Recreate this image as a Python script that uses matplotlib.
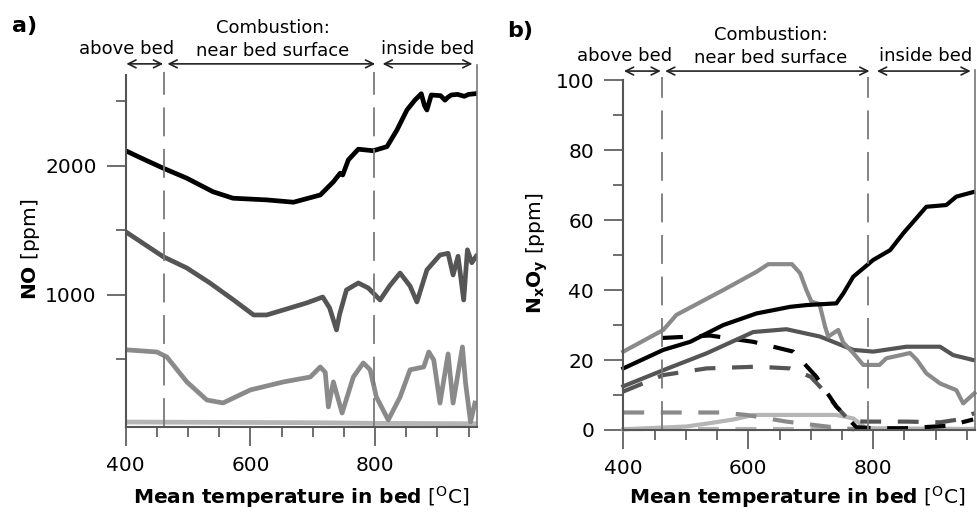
import matplotlib as mpl
import matplotlib.pyplot as plt
from matplotlib.ticker import FixedLocator

mpl.rcParams['font.family'] = ['DejaVu Sans']
mpl.rcParams['mathtext.fontset'] = 'dejavusans'

# ---- panel a: NO [ppm] ----
no_x_black = [403, 428, 460, 498, 540, 572, 626, 669, 712, 733, 740, 744, 748, 757, 773, 797, 819, 835, 851,
              864, 874, 879, 883, 890, 905, 912, 916, 922, 932, 943, 950, 960]
no_y_black = [2111, 2054, 1983, 1905, 1800, 1750, 1737, 1719, 1775, 1877, 1920, 1944, 1930, 2047, 2130, 2118,
              2150, 2279, 2434, 2512, 2560, 2470, 2434, 2550, 2545, 2510, 2530, 2550, 2555, 2540, 2555, 2560]
no_x_dark = [403, 460, 498, 535, 573, 605, 626, 653, 690, 716, 727, 738, 743, 754, 773, 789, 808, 823, 840,
             856, 867, 883, 904, 917, 925, 933, 942, 948, 955, 962]
no_y_dark = [1480, 1297, 1209, 1093, 961, 845, 845, 884, 938, 984, 899, 729, 850, 1039, 1093, 1054, 961, 1069,
             1170, 1069, 946, 1194, 1310, 1323, 1155, 1300, 961, 1350, 1250, 1300]
no_x_mid = [403, 450, 466, 498, 530, 556, 600, 653, 696, 712, 720, 725, 733, 747, 765, 781, 792, 802, 821,
            840, 856, 878, 886, 894, 904, 917, 925, 940, 945, 953, 960]
no_y_mid = [574, 558, 519, 326, 186, 163, 264, 326, 364, 442, 400, 132, 326, 85, 364, 473, 420, 209, 31,
            209, 420, 442, 558, 496, 162, 543, 162, 597, 318, 16, 162]
no_x_light = [400, 700, 800, 960]
no_y_light = [15, 10, 5, 2]

# ---- panel b: NxOy [ppm] ----
b_x_black = [400, 464, 507, 560, 613, 667, 693, 741, 752, 768, 800, 827, 848, 885, 917, 933, 960]
b_y_black = [17.6, 22.9, 25.2, 30, 33.3, 35.2, 35.7, 36.2, 39, 43.8, 48.6, 51.4, 56.2, 63.8, 64.3, 66.7, 68]
b_x_mid = [400, 464, 485, 560, 613, 632, 670, 683, 693, 701, 714, 723, 728, 744, 752, 768, 784, 810, 821,
           859, 870, 885, 907, 933, 944, 962]
b_y_mid = [22.4, 28.6, 32.9, 40, 45.2, 47.4, 47.4, 44.8, 40, 36.7, 36, 29.5, 26.7, 28.6, 25, 22, 18.6, 18.6,
           20.5, 22, 20, 16.2, 13.3, 11.4, 7.6, 10.5]
b_x_dark = [400, 464, 533, 608, 661, 715, 768, 800, 853, 907, 928, 960]
b_y_dark = [12.5, 17.1, 21.9, 28, 28.8, 26.7, 22.9, 22.4, 23.8, 23.8, 21.4, 20]
b_x_light = [400, 501, 544, 576, 608, 741, 768, 789, 960]
b_y_light = [0.2, 1, 2.1, 3, 4.3, 4.3, 3.3, 0.5, 0.3]
b_x_black_d = [462, 539, 608, 672, 709, 741, 773, 800, 850, 920, 960]
b_y_black_d = [26.3, 27, 25.2, 22.4, 15.2, 6.7, 0.8, 0.5, 0.5, 1.2, 3]
b_x_dark_d = [400, 464, 533, 613, 667, 700, 720, 741, 763, 789, 853, 907, 933, 962]
b_y_dark_d = [11, 15.7, 17.6, 18.1, 17.6, 15.2, 11.4, 6.7, 2.5, 2.4, 2.4, 2.2, 2.9, 4.8]
b_x_mid_d = [400, 557, 597, 661, 725, 770]
b_y_mid_d = [5, 5, 4.3, 2.4, 1, 0.2]
b_x_light_d = [400, 800]
b_y_light_d = [0.2, 0.2]

zonas_a = [462, 798]
zonas_b = [462, 792]

c_black = '#000000'
c_dark = '#555555'
c_mid = '#8a8a8a'
c_light = '#b5b5b5'
c_axis = '#555555'

fig = plt.figure(figsize=(9.77, 5.18), dpi=100)
ax_a = fig.add_axes([0.1287, 0.1763, 0.3593, 0.6983])
ax_b = fig.add_axes([0.638, 0.1699, 0.36, 0.695])

lw = 3.4
ax_a.plot(no_x_light, no_y_light, color=c_light, lw=lw)
ax_a.plot(no_x_mid, no_y_mid, color=c_mid, lw=lw)
ax_a.plot(no_x_dark, no_y_dark, color=c_dark, lw=lw)
ax_a.plot(no_x_black, no_y_black, color=c_black, lw=lw)

lwb = 3.0
dash = (5, 4)
ax_b.plot(b_x_light_d, b_y_light_d, color=c_light, lw=lwb, dashes=dash, clip_on=False)
ax_b.plot(b_x_light, b_y_light, color=c_light, lw=lwb, clip_on=False)
ax_b.plot(b_x_mid_d, b_y_mid_d, color=c_mid, lw=lwb, dashes=dash, clip_on=False)
ax_b.plot(b_x_dark_d, b_y_dark_d, color=c_dark, lw=lwb, dashes=dash, clip_on=False)
ax_b.plot(b_x_black_d, b_y_black_d, color=c_black, lw=lwb, dashes=dash, clip_on=False)
ax_b.plot(b_x_dark, b_y_dark, color=c_dark, lw=lwb, clip_on=False)
ax_b.plot(b_x_mid, b_y_mid, color=c_mid, lw=lwb, clip_on=False)
ax_b.plot(b_x_black, b_y_black, color=c_black, lw=lwb, clip_on=False)

ax_a.set_ylim(-21, 2783)
ax_b.set_ylim(0, 102.9)
ax_a.spines['left'].set_bounds(-21, 2705)
ax_b.spines['left'].set_bounds(0, 100)
ax_a.yaxis.set_major_locator(FixedLocator([1000, 2000]))
ax_a.yaxis.set_minor_locator(FixedLocator([500, 1500, 2500]))
ax_b.yaxis.set_major_locator(FixedLocator([0, 20, 40, 60, 80, 100]))
ax_b.yaxis.set_minor_locator(FixedLocator([10, 30, 50, 70, 90]))

for ax, zonas, y_flecha in [(ax_a, zonas_a, 1.003), (ax_b, zonas_b, 0.997)]:
    ax.set_xlim(400, 963)
    ax.xaxis.set_major_locator(FixedLocator([400, 600, 800]))
    ax.xaxis.set_minor_locator(FixedLocator([450, 500, 550, 650, 700, 750, 850, 900, 950]))
    ax.spines['top'].set_visible(False)
    for s in ['left', 'bottom']:
        ax.spines[s].set_color(c_axis)
        ax.spines[s].set_linewidth(1.5)
    ax.spines['right'].set_color('#777777')
    ax.spines['right'].set_linewidth(1.2)
    ax.tick_params(which='major', length=14, width=1.2, color=c_axis, labelsize=14.5, pad=7,
                   right=False, top=False)
    ax.tick_params(which='minor', length=7, width=1.2, color=c_axis, right=False, top=False)
    ax.patch.set_alpha(0)
    # lineas de separación de zonas
    for xz in zonas:
        ax.plot([xz, xz], [0, 0.98], transform=ax.get_xaxis_transform(), color='#7a7a7a', lw=1.3,
                dashes=(16, 7), clip_on=False)
    # flechas de zonas
    tr = ax.get_xaxis_transform()
    flechas = [(401, zonas[0] - 2), (zonas[0] + 5, zonas[1] + 2), (zonas[1] + 14, 956)]
    for x1, x2 in flechas:
        ax.annotate('', xy=(x2, y_flecha), xytext=(x1, y_flecha), xycoords=tr, textcoords=tr,
                    annotation_clip=False,
                    arrowprops=dict(arrowstyle='<->', color='#222222', lw=1.2, shrinkA=0, shrinkB=0,
                                    mutation_scale=14))
    ax.text(402, y_flecha + 0.042, 'above bed', transform=tr, ha='center', va='center', fontsize=13)
    ax.text(636, y_flecha + 0.10, 'Combustion:', transform=tr, ha='center', va='center', fontsize=13)
    ax.text(636, y_flecha + 0.036, 'near bed surface', transform=tr, ha='center', va='center', fontsize=13)
    ax.text(884, y_flecha + 0.042, 'inside bed', transform=tr, ha='center', va='center', fontsize=13)
    ax.set_xlabel(r'$\mathbf{Mean\ temperature\ in\ bed}$ [$^{\mathrm{O}}$C]', fontsize=14.5)

ax_a.set_ylabel(r'$\mathbf{NO}$ [ppm]', fontsize=14.5)
ax_b.set_ylabel(r'$\mathbf{N_xO_y}$ [ppm]', fontsize=14.5)
ax_a.yaxis.set_label_coords(-0.27, 0.49)
ax_b.yaxis.set_label_coords(-0.245, 0.49)
ax_a.yaxis.label.set_va('center')
ax_b.yaxis.label.set_va('center')
ax_a.xaxis.set_label_coords(0.5, -0.16)
ax_b.xaxis.set_label_coords(0.494, -0.15)

fig.text(12 / 977, 1 - 26 / 518, 'a)', fontsize=16, fontweight='bold', ha='left', va='center')
fig.text(507 / 977, 1 - 31 / 518, 'b)', fontsize=16, fontweight='bold', ha='left', va='center')

plt.savefig('out.png', dpi=100)
